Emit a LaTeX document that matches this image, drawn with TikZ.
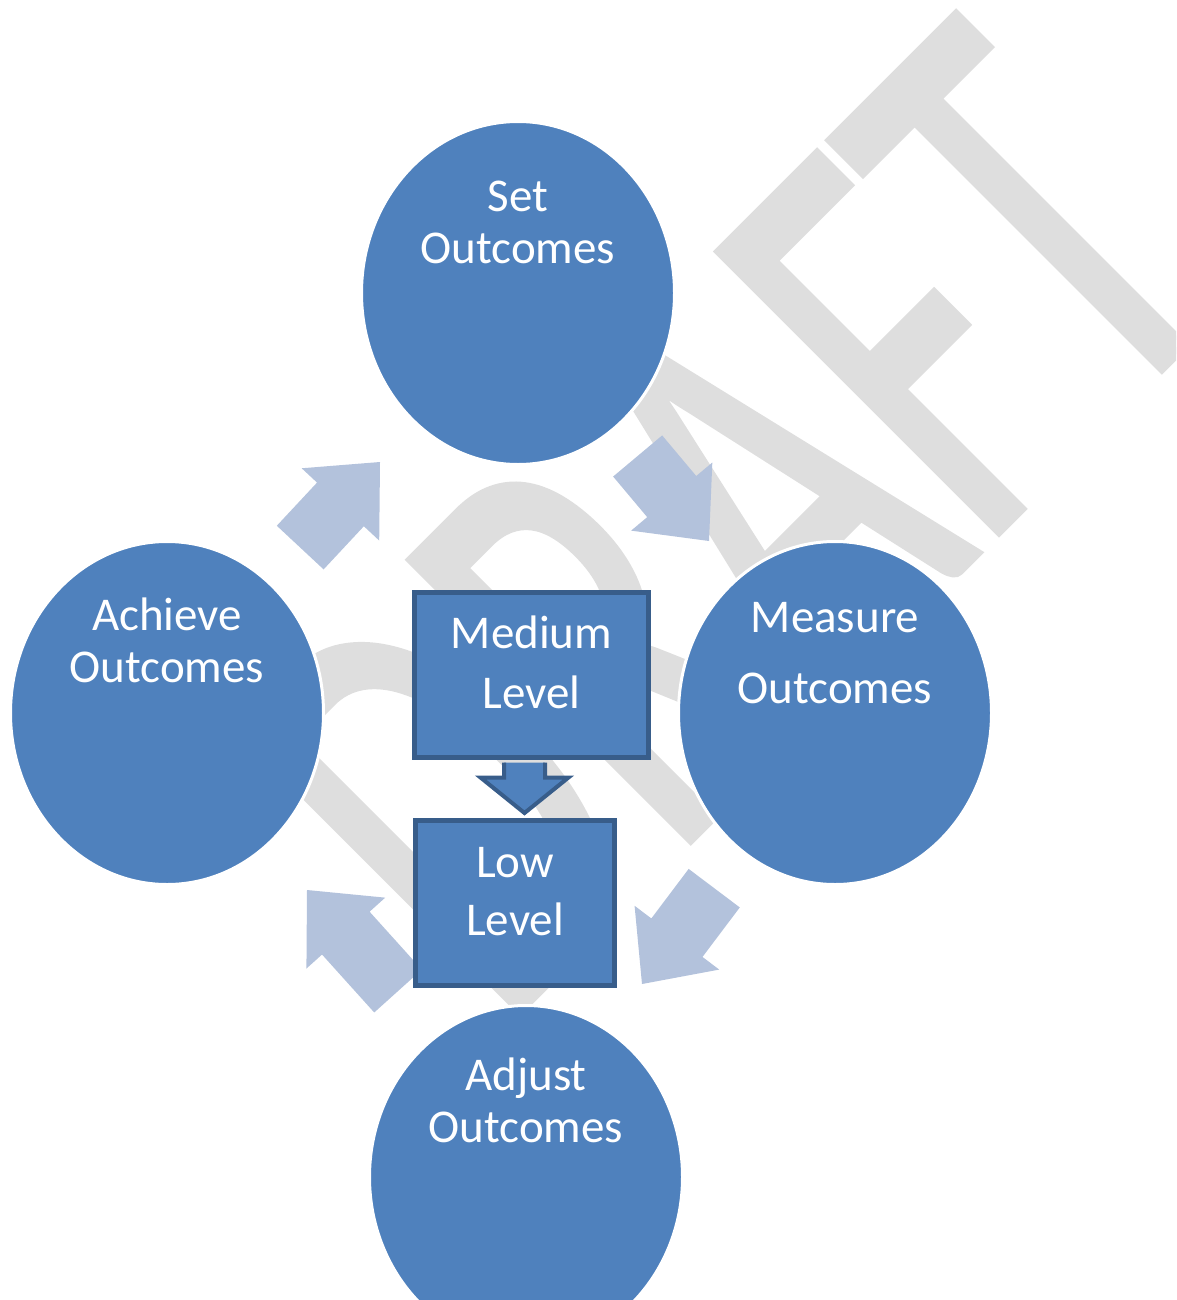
\documentclass[tikz,border=0pt]{standalone}
\usepackage{fontspec}
\setmainfont{Carlito}
\newfontfamily\draftfont[FakeBold=1.5]{Carlito}
\usepackage{tikz}
\usetikzlibrary{shapes.geometric,positioning,calc}
\definecolor{cycleblue}{HTML}{4F81BD}
\definecolor{boxedge}{HTML}{385D8A}
\definecolor{arrowpale}{HTML}{B3C2DC}
\definecolor{draftgray}{HTML}{DEDEDE}

\begin{document}
\begin{tikzpicture}[
		x=1pt, y=-1pt,
		stage/.style={ellipse, draw=white, line width=3pt, fill=cycleblue,
				minimum width=313pt, minimum height=343pt, inner sep=0pt},
		stagetext/.style={anchor=base, align=center, text=white, inner sep=0pt,
				font=\fontsize{47}{52}\selectfont},
		level/.style={rectangle, draw=boxedge, line width=5pt, fill=cycleblue,
				minimum height=165pt, inner sep=0pt},
		cyclearr/.style={fill=arrowpale},
		downarr/.style={draw=boxedge, line width=4pt, fill=cycleblue, line join=miter},
		draft/.style={rotate=45, anchor=base west, inner sep=0pt, text=draftgray,
				font=\draftfont\fontsize{390}{390}\selectfont},
		]
		\useasboundingbox (0,0) rectangle (1176,1300);
		\clip (0,0) rectangle (1176,1300);

		% Watermark
		\node[draft] (draft) at (500,1030) {\scalebox{1}[1.58]{DRAFT}};

		% Cycle arrows (tip points)
		\coordinate (toset) at (380,462);
		\coordinate (tomeasure) at (709,541);
		\coordinate (toadjust) at (642,984);
		\coordinate (toachieve) at (307,890);
		\fill[cyclearr, shift={(toset)}, rotate=47] (0,0) -- (-58,53) -- (-58,32) -- (-117,32) -- (-117,-32) -- (-58,-32) -- (-58,-53) -- cycle;
		\fill[cyclearr, shift={(tomeasure)}, rotate=-50] (0,0) -- (-58,53) -- (-58,32) -- (-111,32) -- (-111,-32) -- (-58,-32) -- (-58,-53) -- cycle;
		\fill[cyclearr, shift={(toadjust)}, rotate=-127] (0,0) -- (-58,53) -- (-58,32) -- (-120,32) -- (-120,-32) -- (-58,-32) -- (-58,-53) -- cycle;
		\fill[cyclearr, shift={(toachieve)}, rotate=132] (0,0) -- (-58,53) -- (-58,32) -- (-136,32) -- (-136,-32) -- (-58,-32) -- (-58,-53) -- cycle;

		% Stages
		\node[stage] (set) at (518,293) {};
		\node[stage] (achieve) at (167,713) {};
		\node[stage] (measure) at (835,713) {};
		\node[stage] (adjust) at (526,1177) {};

		\node[stagetext] (settext) at ([yshift=30pt]set.center) {Set\\Outcomes};
		\node[stagetext] (achievetext) at ([yshift=31pt]achieve.center) {Achieve\\Outcomes};
		\node[stagetext, font=\fontsize{47}{71}\selectfont] (measuretext) at ([yshift=10pt]measure.center) {Measure\\Outcomes};
		\node[stagetext] (adjusttext) at ([yshift=35pt]adjust.center) {Adjust\\Outcomes};

		% Levels
		\node[level, minimum width=234pt] (medium) at (531.5,675) {};
		\node[level, minimum width=199pt] (low) at (515,903) {};

		\coordinate (shaft) at ([xshift=-7pt,yshift=-2.5pt]medium.south);
		\draw[downarr] ([xshift=-20.5pt]shaft) -- ([xshift=-20.5pt,yshift=-15pt]shaft)
			-- ([xshift=-44pt,yshift=-15pt]shaft) -- ([yshift=5pt]shaft |- low.north)
			-- ([xshift=44pt,yshift=-15pt]shaft) -- ([xshift=20.5pt,yshift=-15pt]shaft)
			-- ([xshift=20.5pt]shaft);

		\node[stagetext, font=\fontsize{47}{60}\selectfont] (mediumtext) at ([yshift=-33pt]medium.center) {Medium\\Level};
		\node[stagetext, font=\fontsize{47}{58}\selectfont] (lowtext) at ([yshift=-32pt]low.center) {Low\\Level};
	\end{tikzpicture}
\end{document}
